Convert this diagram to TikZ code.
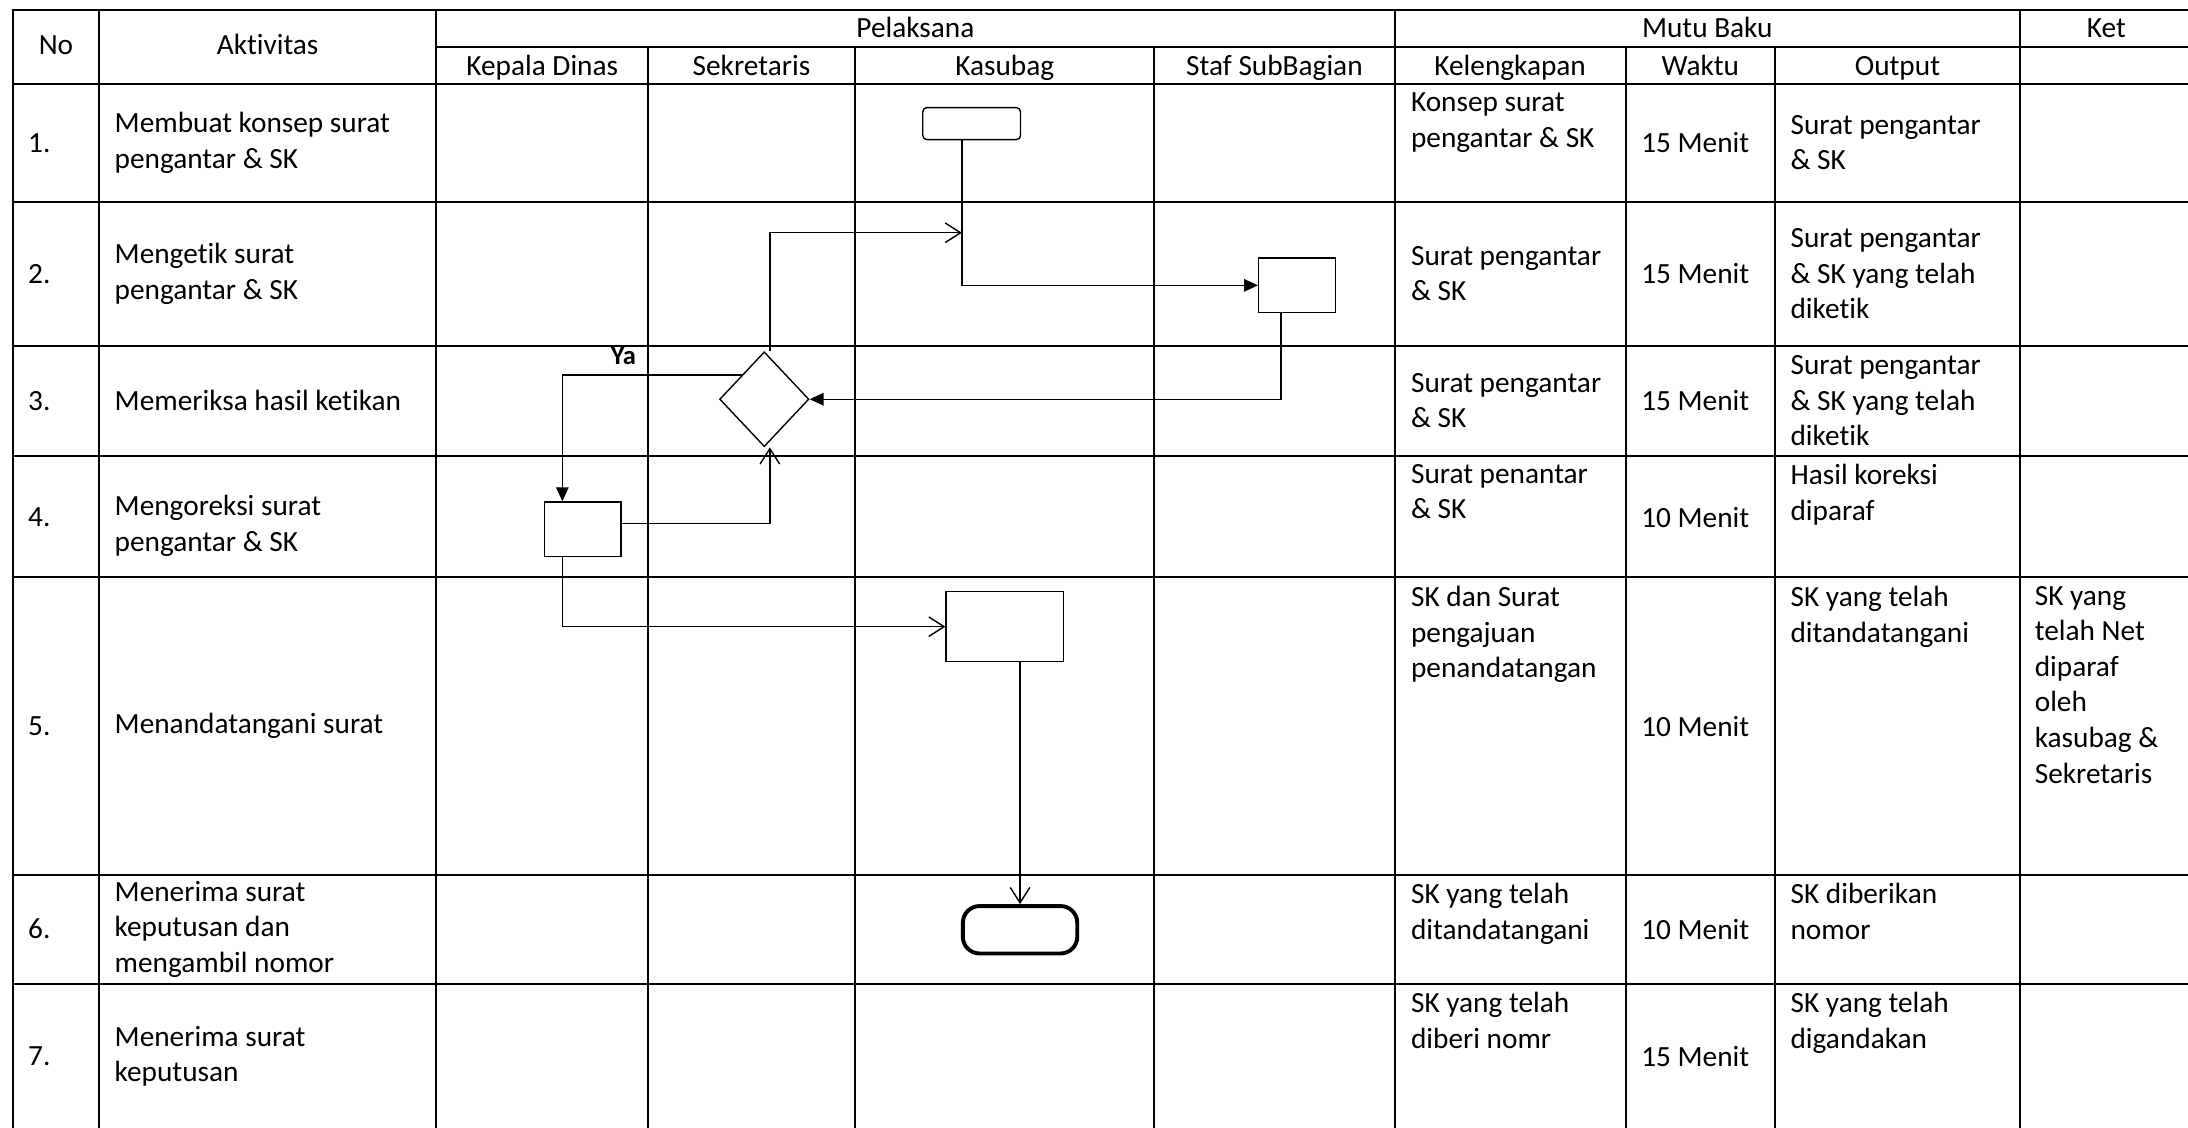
\documentclass[tikz,border=0pt]{standalone}
\usepackage{fontspec}
\setmainfont{Carlito}[Ligatures=NoCommon]
\usetikzlibrary{shapes.geometric, arrows.meta, positioning, calc}

\begin{document}
\begin{tikzpicture}[
    x=1pt, y=-1pt,
    every node/.style={font=\fontsize{21}{25.5}\selectfont},
    head/.style={inner sep=0, align=center, text height=15pt, text depth=4.3pt},
    cell/.style={anchor=west, inner sep=0, align=left},
    celltop/.style={anchor=north west, inner sep=0, align=left},
    grid/.style={line width=1.5pt, line cap=rect},
    process/.style={rectangle, draw, line width=1pt, minimum width=55pt, minimum height=39pt, inner sep=0},
    terminal/.style={rectangle, draw, rounded corners=3pt, line width=1pt, inner sep=0},
    decision/.style={diamond, draw, line width=1pt, minimum width=64pt, minimum height=68pt, inner sep=0},
    flow/.style={draw, line width=1pt},
    openarrow/.style={-{Straight Barb[length=11pt, width=14pt]}},
    fillarrow/.style={-{Triangle[length=10pt, width=9pt]}}
]
\path[fill=white, use as bounding box] (0,0) rectangle (1568,808);

% Table lines
\foreach \y in {7.2, 60.2, 144.5, 247.7, 326.5, 413.8, 626.9, 704.9}
  \draw[grid] (9.3,\y) -- (1568,\y);
\draw[grid] (312.7,33.5) -- (1568,33.5);
\foreach \x in {9.3, 70.9, 312.7, 999.4, 1447.6}
  \draw[grid] (\x,7.2) -- (\x,810);
\foreach \x in {464.5, 612.6, 827.3, 1165, 1272}
  \draw[grid] (\x,33.5) -- (\x,810);

% Header
\node[head] (hno) at (40.1,33.7) {No};
\node[head] (hakt) at (191.8,33.7) {Aktivitas};
\node[head] (hpel) at (656,21.5) {Pelaksana};
\node[head] (hmutu) at (1223.5,21.5) {Mutu Baku};
\node[head] (hket) at (1509.5,21.5) {Ket};
\node[head] (hkd) at (388.6,48.5) {Kepala Dinas};
\node[head] (hsek) at (538.5,48.5) {Sekretaris};
\node[head] (hkas) at (720,48.5) {Kasubag};
\node[head] (hstaf) at (913.3,48.5) {Staf SubBagian};
\node[head] (hkel) at (1082.2,48.5) {Kelengkapan};
\node[head] (hwkt) at (1218.5,48.5) {Waktu};
\node[head] (hout) at (1359.8,48.5) {Output};

% Row 1
\node[cell] (n1) at (20,102.3) {1.};
\node[cell] (a1) at (82,102.3) {Membuat konsep surat\\pengantar \& SK};
\node[celltop] (k1) at (1011,66.5) {Konsep surat\\pengantar \& SK};
\node[cell] (w1) at (1176,102.3) {15 Menit};
\node[cell] (o1) at (1283,102.3) {Surat pengantar\\\& SK};

% Row 2
\node[cell] (n2) at (20,196.1) {2.};
\node[cell] (a2) at (82,196.1) {Mengetik surat\\pengantar \& SK};
\node[cell] (k2) at (1011,196.1) {Surat pengantar\\\& SK};
\node[cell] (w2) at (1176,196.1) {15 Menit};
\node[cell] (o2) at (1283,196.1) {Surat pengantar\\\& SK yang telah\\diketik};

% Row 3
\node[cell] (n3) at (20,287.1) {3.};
\node[cell] (a3) at (82,287.1) {Memeriksa hasil ketikan};
\node[cell] (k3) at (1011,287.1) {Surat pengantar\\\& SK};
\node[cell] (w3) at (1176,287.1) {15 Menit};
\node[cell] (o3) at (1283,287.1) {Surat pengantar\\\& SK yang telah\\diketik};

% Row 4
\node[cell] (n4) at (20,371) {4.};
\node[cell] (a4) at (82,377) {Mengoreksi surat\\pengantar \& SK};
\node[celltop] (k4) at (1011,332.5) {Surat penantar\\\& SK};
\node[cell] (w4) at (1176,371) {10 Menit};
\node[celltop] (o4) at (1283,332.5) {Hasil koreksi\\diparaf};

% Row 5
\node[cell] (n5) at (20,520.4) {5.};
\node[cell] (a5) at (82,520.4) {Menandatangani surat};
\node[celltop] (k5) at (1011,419.8) {SK dan Surat\\pengajuan\\penandatangan};
\node[cell] (w5) at (1176,520.4) {10 Menit};
\node[celltop] (o5) at (1283,419.8) {SK yang telah\\ditandatangani};
\node[celltop] (t5) at (1458,419.8) {SK yang\\telah Net\\diparaf\\oleh\\kasubag \&\\Sekretaris};

% Row 6
\node[cell] (n6) at (20,665.9) {6.};
\node[cell] (a6) at (82,665.9) {Menerima surat\\keputusan dan\\mengambil nomor};
\node[celltop] (k6) at (1011,632.9) {SK yang telah\\ditandatangani};
\node[cell] (w6) at (1176,665.9) {10 Menit};
\node[celltop] (o6) at (1283,632.9) {SK diberikan\\nomor};

% Row 7
\node[cell] (n7) at (20,757) {7.};
\node[cell] (a7) at (82,757) {Menerima surat\\keputusan};
\node[celltop] (k7) at (1011,710.9) {SK yang telah\\diberi nomr};
\node[cell] (w7) at (1176,757) {15 Menit};
\node[celltop] (o7) at (1283,710.9) {SK yang telah\\digandakan};

% Flow nodes
\node[terminal, minimum width=70pt, minimum height=23pt] (mulai) at (696.3,88.6) {};
\node[process] (ketik) at (929.5,204.5) {};
\node[decision] (periksa) at (547.7,286.1) {};
\node[process] (koreksi) at (417.5,379.2) {};
\node[process, minimum width=84pt, minimum height=50pt] (tanda) at (720,449.1) {};
\node[terminal, line width=2.8pt, rounded corners=12pt, minimum width=82pt, minimum height=34pt] (selesai) at (731,666.3) {};
\coordinate (gabung) at (689.3,166.8);

% Connections
\draw[flow, fillarrow] ([xshift=-7pt]mulai.south) |- (ketik.west);
\draw[flow, openarrow] ([xshift=4pt]periksa.north) |- (gabung);
\draw[flow, fillarrow] ([xshift=-11.5pt]ketik.south) |- (periksa.east);
\draw[flow, fillarrow] (periksa.north west) -| node[pos=0.33, above=7pt, inner sep=0, font=\bfseries\fontsize{19}{22}\selectfont] (ya) {Ya} ([xshift=-14.5pt]koreksi.north);
\draw[flow, openarrow] ([yshift=4pt]koreksi.east) -| ([xshift=4pt]periksa.south);
\draw[flow, openarrow] ([xshift=-14.5pt]koreksi.south) |- (tanda.west);
\draw[flow, openarrow] (tanda.south -| selesai.north) -- (selesai.north);

\end{tikzpicture}
\end{document}
